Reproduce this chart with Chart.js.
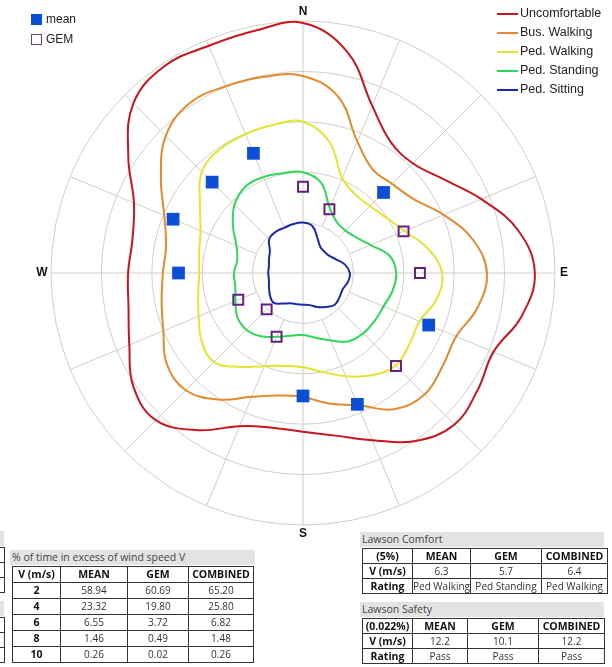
<!DOCTYPE html>
<html>
<head>
<meta charset="utf-8">
<script src="https://cdn.jsdelivr.net/npm/chart.js@4.4.1/dist/chart.umd.min.js"></script>
<style>
  html, body { margin: 0; padding: 0; background: #fff; }
  body { width: 612px; height: 667px; position: relative; overflow: hidden; font-family: "Liberation Sans", Arial, sans-serif; }
  #wrap { position: absolute; left: 0; top: 0; width: 612px; height: 546px; }
  .legend { position: absolute; font-size: 12px; color: #222; }
  .legend .item { position: absolute; white-space: nowrap; }
  .box { position: absolute; box-sizing: border-box; width: 11px; height: 11px; }
  .swatch { position: absolute; width: 21px; height: 2px; }
  .tbl { position: absolute; font-family: "Open Sans", "Noto Sans", sans-serif; font-size: 10px; color: #333; }
  .tbl .title { background: #e3e3e3; color: #444; height: 15px; line-height: 15px; padding-left: 2px; font-size: 10.5px; }
  .tbl table { border-collapse: collapse; table-layout: fixed; margin-left: 2px; }
  .tbl td { border: 1px solid #333; height: 14px; padding: 0; text-align: center; line-height: 14px; white-space: nowrap; overflow: hidden; }
  .tbl td.b { font-weight: bold; color: #111; font-size: 10.5px; }
  #exceedTable td { height: 15px; line-height: 15px; }
</style>
</head>
<body>
<div id="wrap"><canvas id="rose" width="612" height="546"></canvas></div>
<div class="legend" id="markerLegend"></div>
<div class="legend" id="contourLegend"></div>
<div class="tbl" id="leftStub" style="left:-240px; top:531px;"></div>
<div class="tbl" id="exceedTable" style="left:10px; top:550px;"></div>
<div class="tbl" id="comfortTable" style="left:360px; top:532px;"></div>
<div class="tbl" id="safetyTable" style="left:360px; top:602px;"></div>
<script>
(function(){
  'use strict';

  // 32 compass points, clockwise from north
  var directions = ['N', 'NbE', 'NNE', 'NEbN', 'NE', 'NEbE', 'ENE', 'EbN',
    'E', 'EbS', 'ESE', 'SEbE', 'SE', 'SEbS', 'SSE', 'SbE',
    'S', 'SbW', 'SSW', 'SWbS', 'SW', 'SWbW', 'WSW', 'WbS',
    'W', 'WbN', 'WNW', 'NWbW', 'NW', 'NWbN', 'NNW', 'NbW'];
  var cardinals = ['N', 'E', 'S', 'W'];

  // contour radii (ring units) per direction
  var uncomfortable = [4.96, 4.48, 3.59, 3.13, 3.08, 3.35, 3.83, 4.35, 4.60, 4.42, 4.09, 4.17, 4.25, 4.01, 3.59, 3.29,
    3.15, 3.13, 3.29, 3.75, 4.13, 4.05, 3.73, 3.53, 3.47, 3.45, 3.63, 4.17, 4.76, 4.94, 4.88, 4.90];
  var busWalking = [3.91, 3.57, 2.82, 2.48, 2.50, 2.64, 3.02, 3.43, 3.65, 3.53, 3.29, 3.33, 3.41, 3.25, 2.84, 2.64,
    2.46, 2.48, 2.66, 3.02, 3.29, 3.25, 3.00, 2.86, 2.78, 2.77, 2.98, 3.39, 3.85, 4.05, 4.01, 3.97];
  var pedWalking = [3.00, 2.66, 2.04, 1.87, 1.88, 1.98, 2.18, 2.52, 2.76, 2.70, 2.50, 2.54, 2.60, 2.44, 2.22, 2.00,
    1.87, 1.88, 2.00, 2.24, 2.50, 2.42, 2.24, 2.12, 2.06, 2.10, 2.20, 2.46, 2.84, 2.96, 2.98, 3.00];
  var pedStanding = [2.00, 1.83, 1.39, 1.21, 1.19, 1.27, 1.45, 1.75, 1.85, 1.81, 1.73, 1.71, 1.69, 1.63, 1.45, 1.31,
    1.23, 1.27, 1.37, 1.51, 1.59, 1.57, 1.45, 1.37, 1.37, 1.33, 1.43, 1.67, 1.92, 2.06, 2.06, 2.02];
  var pedSitting = [1.00, 0.95, 0.75, 0.62, 0.60, 0.62, 0.71, 0.85, 0.93, 0.91, 0.85, 0.87, 0.89, 0.81, 0.73, 0.65,
    0.63, 0.63, 0.65, 0.73, 0.83, 0.79, 0.73, 0.69, 0.69, 0.69, 0.73, 0.79, 0.95, 0.98, 0.97, 0.99];

  var contourNames = ['Uncomfortable', 'Bus. Walking', 'Ped. Walking', 'Ped. Standing', 'Ped. Sitting'];
  var contourColors = ['#c9161e', '#e38a2e', '#e4e433', '#30d85a', '#1c2aa8'];

  // markers on the 16 main directions (every other compass point)
  var meanValues = [null, null, 2.26, null, null, 2.70, null, 2.82, 2.44, null, null, null, 2.47, 2.79, 2.55, 2.57];
  var gemValues = [1.71, 1.37, null, 2.16, 2.32, null, 2.61, null, null, 1.37, 1.02, 1.39, null, null, null, null];

  // tables
  var speedRows = ['2', '4', '6', '8', '10'];
  var meanPct = ['58.94', '23.32', '6.55', '1.46', '0.26'];
  var gemPct = ['60.69', '19.80', '3.72', '0.49', '0.02'];
  var combinedPct = ['65.20', '25.80', '6.82', '1.48', '0.26'];
  var comfortSpeed = ['6.3', '5.7', '6.4'];
  var comfortRating = ['Ped Walking', 'Ped Standing', 'Ped Walking'];
  var safetySpeed = ['12.2', '10.1', '12.2'];
  var safetyRating = ['Pass', 'Pass', 'Pass'];

  var gridColor = '#d2cec5';

  function spread(values) {
    var out = [];
    for (var i = 0; i < values.length; i++) {
      out.push(values[i], null);
    }
    return out;
  }

  var polarGrid = {
    id: 'polarGrid',
    beforeDatasetsDraw: function(chart) {
      var r = chart.scales.r;
      var ctx = chart.ctx;
      ctx.save();
      ctx.strokeStyle = gridColor;
      ctx.lineWidth = 1;
      for (var i = 0; i < directions.length; i += 2) {
        var a = r.getPointPositionForValue(i, i % 8 === 0 ? 0 : 1);
        var b = r.getPointPositionForValue(i, r.max);
        ctx.beginPath();
        ctx.moveTo(a.x, a.y);
        ctx.lineTo(b.x, b.y);
        ctx.stroke();
      }
      ctx.restore();
    },
    afterDraw: function(chart) {
      var r = chart.scales.r;
      var ctx = chart.ctx;
      ctx.save();
      ctx.font = 'bold 12px "Liberation Sans", Arial, sans-serif';
      ctx.fillStyle = '#111';
      ctx.textAlign = 'center';
      ctx.textBaseline = 'middle';
      for (var i = 0; i < directions.length; i++) {
        if (cardinals.indexOf(directions[i]) < 0) continue;
        var p = r.getPointPosition(i, r.drawingArea + 9);
        ctx.fillText(directions[i], p.x, p.y);
      }
      ctx.restore();
    }
  };

  var datasets = [{
    label: 'mean',
    data: spread(meanValues),
    showLine: false,
    pointStyle: 'rect',
    pointRadius: 9,
    pointBackgroundColor: '#0b4fd6',
    pointBorderColor: '#0b4fd6',
    pointBorderWidth: 0
  }, {
    label: 'GEM',
    data: spread(gemValues),
    showLine: false,
    pointStyle: 'rect',
    pointRadius: 7,
    pointBackgroundColor: 'rgba(0,0,0,0)',
    pointBorderColor: '#65207f',
    pointBorderWidth: 2
  }];

  var contours = [uncomfortable, busWalking, pedWalking, pedStanding, pedSitting];
  for (var k = 0; k < contours.length; k++) {
    datasets.push({
      label: contourNames[k],
      data: contours[k],
      borderColor: contourColors[k],
      borderWidth: 2,
      fill: false,
      tension: 0.4,
      pointRadius: 0
    });
  }

  new Chart(document.getElementById('rose'), {
    type: 'radar',
    data: { labels: directions, datasets: datasets },
    options: {
      responsive: false,
      animation: false,
      layout: { padding: { left: 51, right: 57, top: 21, bottom: 21 } },
      plugins: { legend: { display: false }, tooltip: { enabled: false } },
      scales: {
        r: {
          min: 0,
          max: 5,
          ticks: { display: false, stepSize: 1 },
          grid: { circular: true, color: gridColor, lineWidth: 1 },
          angleLines: { display: false },
          pointLabels: { display: false }
        }
      }
    },
    plugins: [polarGrid]
  });

  // legends
  var ml = document.getElementById('markerLegend');
  ml.innerHTML =
    '<div class="box" style="left:31px;top:14px;background:#0b4fd6;"></div>' +
    '<div class="item" style="left:46px;top:12px;">mean</div>' +
    '<div class="box" style="left:31px;top:34px;border:1px solid #7a3a8c;"></div>' +
    '<div class="item" style="left:46px;top:32px;">GEM</div>';

  var cl = document.getElementById('contourLegend');
  var html = '';
  for (var j = 0; j < contourNames.length; j++) {
    var y = 14 + j * 19;
    html += '<div class="swatch" style="left:497px;top:' + (y - 1) + 'px;background:' + contourColors[j] + ';"></div>' +
      '<div class="item" style="left:520px;top:' + (y - 8) + 'px;font-size:12.5px;">' + contourNames[j] + '</div>';
  }
  cl.innerHTML = html;

  function row(cells, boldFirst) {
    var s = '<tr>';
    for (var i = 0; i < cells.length; i++) {
      s += '<td' + (i === 0 && boldFirst ? ' class="b"' : '') + '>' + cells[i] + '</td>';
    }
    return s + '</tr>';
  }
  function headRow(cells) {
    var s = '<tr>';
    for (var i = 0; i < cells.length; i++) s += '<td class="b">' + cells[i] + '</td>';
    return s + '</tr>';
  }
  function cols(widths) {
    var s = '<colgroup>';
    for (var i = 0; i < widths.length; i++) s += '<col style="width:' + widths[i] + 'px">';
    return s + '</colgroup>';
  }

  var ex = '<div class="title" style="width:243px;">% of time in excess of wind speed V</div>' +
    '<table style="margin-top:1px;">' + cols([48, 67, 61, 65]) + headRow(['V (m/s)', 'MEAN', 'GEM', 'COMBINED']);
  for (var n = 0; n < speedRows.length; n++) {
    ex += row([speedRows[n], meanPct[n], gemPct[n], combinedPct[n]], true);
  }
  document.getElementById('exceedTable').innerHTML = ex + '</table>';

  var lawsonCols = cols([50, 55, 71, 66]);
  document.getElementById('comfortTable').innerHTML =
    '<div class="title" style="width:242px;">Lawson Comfort</div><table style="margin-top:1px;">' + lawsonCols +
    headRow(['(5%)', 'MEAN', 'GEM', 'COMBINED']) +
    row(['V (m/s)'].concat(comfortSpeed), true) +
    row(['Rating'].concat(comfortRating), true) + '</table>';
  document.getElementById('safetyTable').innerHTML =
    '<div class="title" style="width:242px;">Lawson Safety</div><table style="margin-top:1px;">' + lawsonCols +
    headRow(['(0.022%)', 'MEAN', 'GEM', 'COMBINED']) +
    row(['V (m/s)'].concat(safetySpeed), true) +
    row(['Rating'].concat(safetyRating), true) + '</table>';

  // partly hidden table at the left edge
  var blank = ['', '', '', ''];
  document.getElementById('leftStub').innerHTML =
    '<div class="title" style="width:242px;"></div><table style="margin-top:1px;">' + lawsonCols +
    row(blank) + row(blank) + row(blank) + '</table>' +
    '<div class="title" style="width:242px;margin-top:8px;"></div><table style="margin-top:1px;">' + lawsonCols +
    row(blank) + row(blank) + row(blank) + '</table>';

}());
</script>
</body>
</html>
